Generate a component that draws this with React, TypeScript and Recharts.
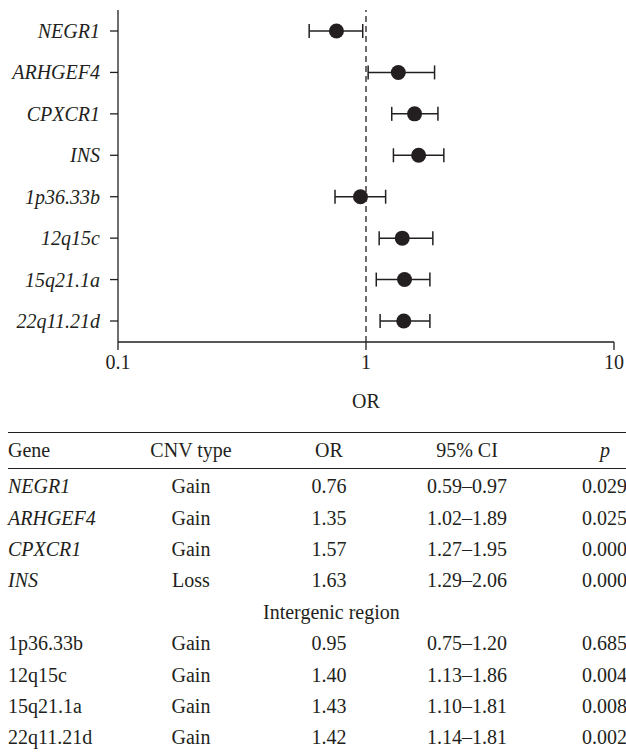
import React from 'react';
import { ComposedChart, Scatter, ErrorBar, XAxis, YAxis, ReferenceLine } from 'recharts';

const genes = ['NEGR1', 'ARHGEF4', 'CPXCR1', 'INS', '1p36.33b', '12q15c', '15q21.1a', '22q11.21d'];
const cnvTypes = ['Gain', 'Gain', 'Gain', 'Loss', 'Gain', 'Gain', 'Gain', 'Gain'];
const oddsRatios = [0.76, 1.35, 1.57, 1.63, 0.95, 1.40, 1.43, 1.42];
const ciLow = [0.59, 1.02, 1.27, 1.29, 0.75, 1.13, 1.10, 1.14];
const ciHigh = [0.97, 1.89, 1.95, 2.06, 1.20, 1.86, 1.81, 1.81];
const pValues = ['0.029', '0.025', '0.0001', '0.0001', '0.685', '0.004', '0.008', '0.002'];
const xTicks = [0.1, 1, 10];
const tableHeader = ['Gene', 'CNV type', 'OR', '95% CI', 'p'];
const intergenicLabel = 'Intergenic region';
const intergenicStart = 4; // rows from here on are intergenic, not italic

const INK = '#231f20';
const SERIF = '"Liberation Serif", "Times New Roman", serif';

const data = genes.map((g, i) => ({
  gene: g,
  or: oddsRatios[i],
  err: [oddsRatios[i] - ciLow[i], ciHigh[i] - oddsRatios[i]],
}));

const fmt = (v: number) => v.toFixed(2);

function Dot(props: any) {
  const { cx, cy } = props;
  return <circle cx={cx} cy={cy} r={7.5} fill={INK} />;
}

function GeneTick(props: any) {
  const { x, y, payload } = props;
  return (
    <text
      x={x}
      y={y}
      dy="0.35em"
      textAnchor="end"
      fill={INK}
      style={{ fontFamily: SERIF, fontSize: 20, fontStyle: 'italic' }}
    >
      {payload.value}
    </text>
  );
}

function OrTick(props: any) {
  const { x, y, payload } = props;
  return (
    <text x={x} y={y} dy="0.75em" textAnchor="middle" fill={INK} style={{ fontFamily: SERIF, fontSize: 20 }}>
      {String(payload.value)}
    </text>
  );
}

function ForestPlot() {
  return (
    <ComposedChart
      layout="vertical"
      width={626}
      height={412}
      data={data}
      margin={{ top: 10, right: 12, bottom: 0, left: 0 }}
    >
      <XAxis
        type="number"
        dataKey="or"
        scale="log"
        domain={[0.1, 10]}
        ticks={xTicks}
        allowDataOverflow
        height={70}
        axisLine={{ stroke: INK, strokeWidth: 1.3 }}
        tickLine={{ stroke: INK, strokeWidth: 1.3 }}
        tickSize={8}
        tickMargin={4}
        tick={<OrTick />}
        label={{
          value: 'OR',
          position: 'insideBottom',
          offset: 4,
          fill: INK,
          style: { fontFamily: SERIF, fontSize: 20 },
        }}
      />
      <YAxis
        type="category"
        dataKey="gene"
        width={118}
        padding={{ top: 21, bottom: 21 }}
        axisLine={{ stroke: INK, strokeWidth: 1.3 }}
        tickLine={{ stroke: INK, strokeWidth: 1.3 }}
        tickSize={8}
        tickMargin={10}
        tick={<GeneTick />}
      />
      <ReferenceLine x={1} stroke={INK} strokeWidth={1.3} strokeDasharray="6 4" />
      <Scatter dataKey="or" shape={<Dot />} isAnimationActive={false}>
        <ErrorBar dataKey="err" direction="x" width={7} stroke={INK} strokeWidth={1.5} />
      </Scatter>
    </ComposedChart>
  );
}

const cellCenter: React.CSSProperties = { textAlign: 'center', padding: 0, paddingTop: 5 };

function StatsTable() {
  const cols = [112, 142, 134, 142, 134];
  return (
    <table
      style={{
        position: 'absolute',
        left: 8,
        top: 432,
        width: 664,
        borderCollapse: 'collapse',
        tableLayout: 'fixed',
        fontFamily: SERIF,
        fontSize: 20,
        color: INK,
      }}
    >
      <colgroup>
        {cols.map((w, i) => (
          <col key={i} style={{ width: w }} />
        ))}
      </colgroup>
      <thead>
        <tr style={{ height: 36, borderTop: `1.5px solid ${INK}`, borderBottom: `1.5px solid ${INK}` }}>
          {tableHeader.map((h, i) => (
            <th
              key={h}
              style={{
                fontWeight: 'normal',
                padding: 0,
                paddingLeft: i === 4 ? 62 : 0,
                textAlign: i === 0 || i === 4 ? 'left' : 'center',
                fontStyle: i === 4 ? 'italic' : 'normal',
              }}
            >
              {h}
            </th>
          ))}
        </tr>
      </thead>
      <tbody>
        {genes.map((g, i) => (
          <React.Fragment key={g}>
            {i === intergenicStart && (
              <tr style={{ height: 31.4 }}>
                <td colSpan={5} style={{ padding: 0, paddingTop: 5, textAlign: 'left', paddingLeft: 255 }}>
                  {intergenicLabel}
                </td>
              </tr>
            )}
            <tr style={{ height: 31.4 }}>
              <td style={{ padding: 0, paddingTop: 5, fontStyle: i < intergenicStart ? 'italic' : 'normal' }}>{g}</td>
              <td style={cellCenter}>{cnvTypes[i]}</td>
              <td style={cellCenter}>{fmt(oddsRatios[i])}</td>
              <td style={cellCenter}>
                {fmt(ciLow[i])}–{fmt(ciHigh[i])}
              </td>
              <td style={{ padding: 0, paddingTop: 5, paddingLeft: 44 }}>{pValues[i]}</td>
            </tr>
          </React.Fragment>
        ))}
      </tbody>
    </table>
  );
}

export default function App() {
  return (
    <div
      style={{
        position: 'absolute',
        left: 0,
        top: 0,
        width: 626,
        height: 754,
        overflow: 'hidden',
        background: '#fff',
        fontFamily: SERIF,
      }}
    >
      <ForestPlot />
      <StatsTable />
    </div>
  );
}
